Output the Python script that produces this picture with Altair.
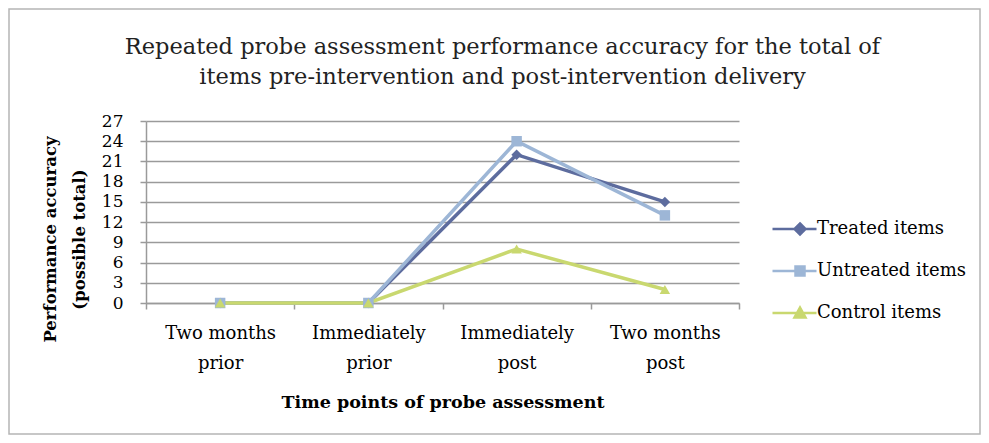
import altair as alt
import pandas as pd

categories = ["Two months prior", "Immediately prior", "Immediately post", "Two months post"]
series = ["Treated items", "Untreated items", "Control items"]
treated = [0, 0, 22, 15]
untreated = [0, 0, 24, 13]
control = [0, 0, 8, 2]
colors = ["#5d6c9e", "#9db6d6", "#c9d86f"]
marker_shapes = ["diamond", "square", "triangle-up"]

rows = []
for rank, (name, vals) in enumerate(zip(series, [treated, untreated, control])):
    for cat, v in zip(categories, vals):
        rows.append({"series": name, "time": cat, "value": v, "rank": rank})
df = pd.DataFrame(rows)

SERIF = "DejaVu Serif"
GRID = "#9a9a9a"

label_expr = ("[slice(datum.label, 0, lastindexof(datum.label, ' ')), "
              "slice(datum.label, lastindexof(datum.label, ' ') + 1)]")

x_enc = alt.X(
    "time:N",
    sort=categories,
    scale=alt.Scale(type="band", domain=categories, paddingInner=0, paddingOuter=0),
    bandPosition=0.5,
    axis=alt.Axis(
        title="Time points of probe assessment",
        titleFont=SERIF, titleFontWeight="bold", titleFontSize=17.5, titleColor="#000",
        titlePadding=21,
        labelExpr=label_expr, labelAngle=0, labelFont=SERIF, labelFontSize=18,
        labelColor="#000", labelLineHeight=30, labelPadding=15,
        tickBand="extent", tickSize=6, tickColor=GRID, domainColor=GRID,
        domainWidth=1.5, tickWidth=1.5, grid=False,
    ),
)
y_enc = alt.Y(
    "value:Q",
    scale=alt.Scale(domain=[0, 27], nice=False),
    axis=alt.Axis(
        values=list(range(0, 28, 3)),
        title=["Performance accuracy", "(possible total)"],
        titleFont=SERIF, titleFontWeight="bold", titleFontSize=16.5, titleColor="#000",
        titleLineHeight=29, titleX=-88, titleY=118, titleAlign="center",
        labelFont=SERIF, labelFontSize=17, labelColor="#000", labelPadding=17,
        tickSize=6, tickColor=GRID, domainColor=GRID, domainWidth=1.5, tickWidth=1.5,
        gridColor=GRID, gridWidth=1.5,
    ),
)

base = alt.Chart(df)

line_layers = [
    base.transform_filter(alt.datum.series == s).mark_line(strokeWidth=3.5, color=c).encode(
        x=x_enc, y=y_enc
    )
    for s, c in zip(series, colors)
]
point_layers = [
    base.transform_filter(alt.datum.series == s).mark_point(
        filled=True, opacity=1, size=110, shape=shp, color=c
    ).encode(x=x_enc, y=y_enc)
    for s, c, shp in zip(series, colors, marker_shapes)
]

legend_paths = [
    "M-5.5,0H3.3M0,-1.1L1.1,0L0,1.1L-1.1,0Z",
    "M-5.5,0H3.3M-0.9,-0.9H0.9V0.9H-0.9Z",
    "M-5.5,0H3.3M0,-1.1L1.1,0.9H-1.1Z",
]
leg = alt.Legend(
    title=None, orient="none", legendX=645, legendY=99, padding=0,
    symbolSize=100, symbolStrokeWidth=2.5, labelOffset=8, symbolOpacity=1,
    labelFont=SERIF, labelFontSize=18, labelColor="#000", rowPadding=21,
)
legend_layer = base.transform_filter("false").mark_point(filled=True, opacity=1).encode(
    shape=alt.Shape("series:N", scale=alt.Scale(domain=series, range=legend_paths), legend=leg),
    fill=alt.Fill("series:N", scale=alt.Scale(domain=series, range=colors), legend=leg),
    stroke=alt.Stroke("series:N", scale=alt.Scale(domain=series, range=colors), legend=leg),
)

frame = alt.Chart(alt.Data(values=[{"a": 1}])).mark_rect(
    filled=False, stroke="#b5b5b5", strokeWidth=1.5
).encode(
    x=alt.value(-137), x2=alt.value(834), y=alt.value(-112), y2=alt.value(313)
)

chart = alt.layer(frame, *line_layers, *point_layers, legend_layer).properties(
    width=593, height=182,
    autosize=alt.AutoSizeParams(type="none"),
    padding={"left": 138, "top": 113, "right": 242, "bottom": 132},
    title=alt.TitleParams(
        text=["Repeated probe assessment performance accuracy  for the total of",
              "items pre-intervention and post-intervention delivery"],
        font=SERIF, fontSize=22.5, fontWeight="normal", color="#222",
        anchor="middle", frame="group", dx=60, dy=80, offset=0, lineHeight=30,
    ),
).configure_view(strokeWidth=0)

chart.save("out.html", embed_options={"renderer": "svg", "actions": False})
